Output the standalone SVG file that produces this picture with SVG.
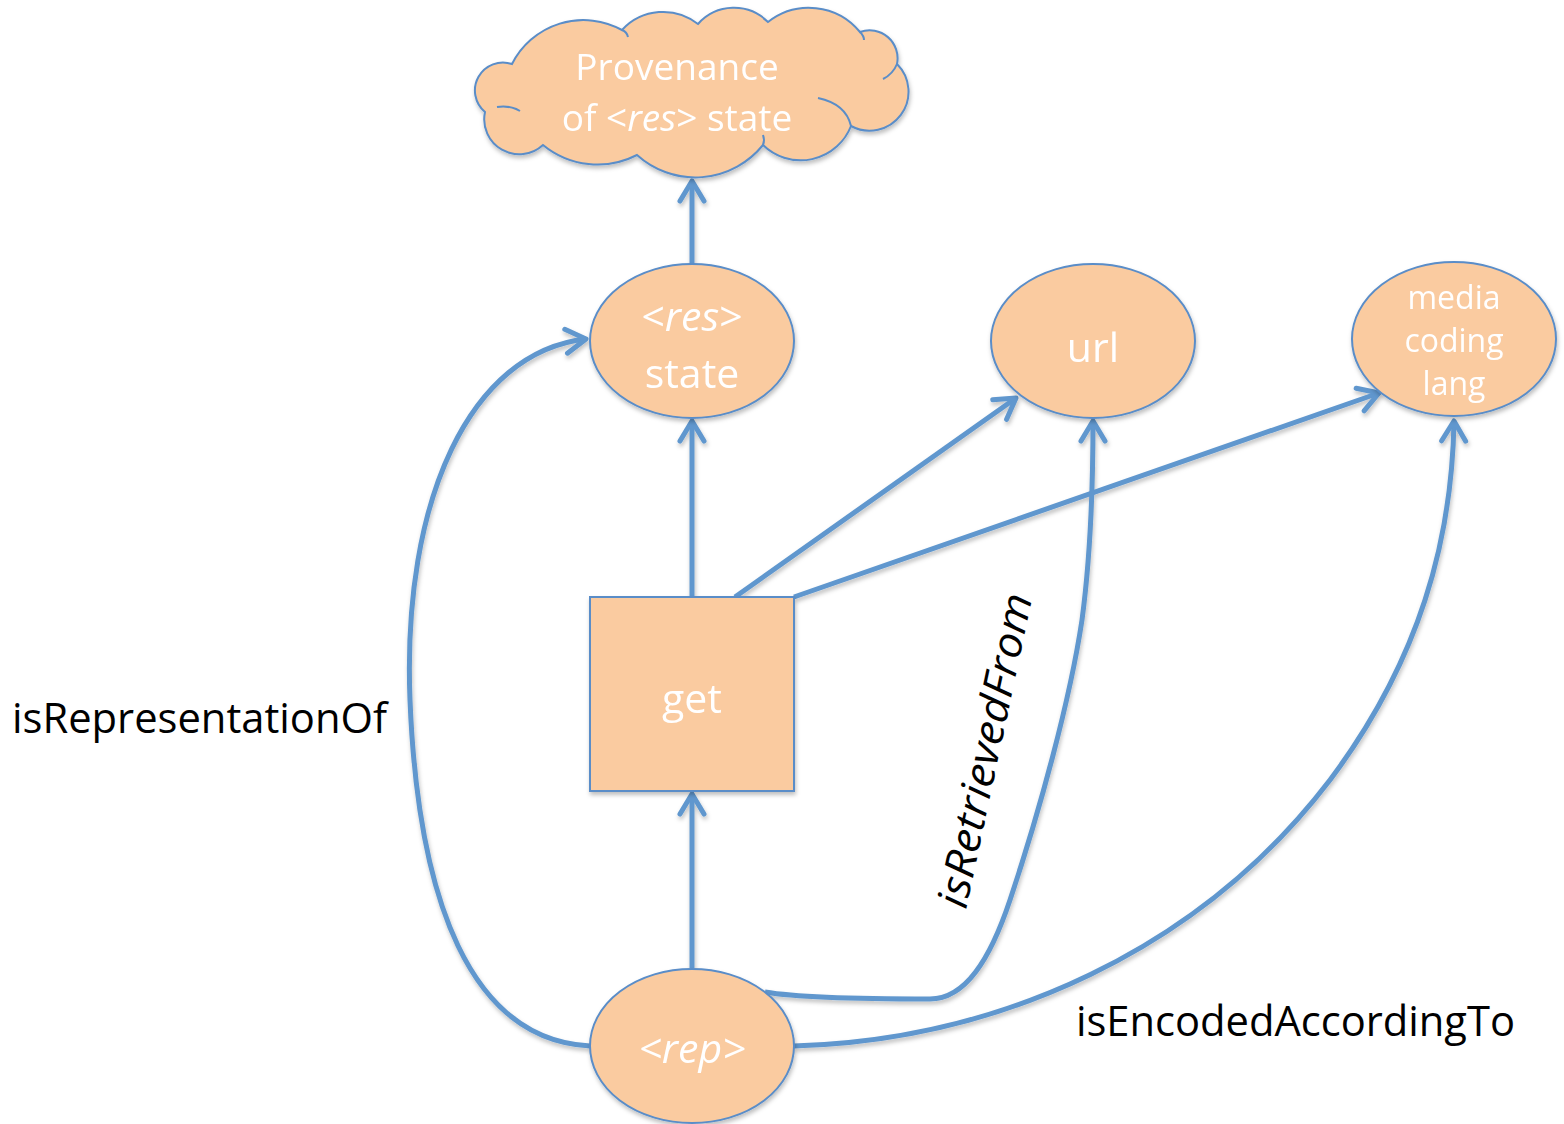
<svg xmlns="http://www.w3.org/2000/svg" width="1564" height="1124" viewBox="0 0 1564 1124">
  <style>
    .node { fill: #FACBA0; stroke: #5A8DC8; stroke-width: 2; }
    .tick { fill: none; stroke: #5A8DC8; stroke-width: 2; }
    .nt { font-family: "Open Sans", "Liberation Sans", sans-serif; fill: #FFFFFF; text-anchor: middle; }
    .lbl { font-family: "Open Sans", "Liberation Sans", sans-serif; fill: #000000; font-size: 42px; }
    .edge { fill: none; stroke: #6097CE; stroke-width: 5; marker-end: url(#arrow); }
  </style>
  <defs>
    <marker id="arrow" markerUnits="userSpaceOnUse" viewBox="-26 -16 32 32" refX="0" refY="0" markerWidth="32" markerHeight="32" orient="auto" overflow="visible">
      <path d="M-20,-12 L0,0 L-20,12" fill="none" stroke="#6097CE" stroke-width="5" stroke-linecap="round" stroke-linejoin="round"/>
    </marker>
    <filter id="sh" x="-10%" y="-10%" width="130%" height="130%">
      <feDropShadow dx="1" dy="3" stdDeviation="2" flood-color="#000" flood-opacity="0.25"/>
    </filter>
  </defs>

  <g id="connectors" filter="url(#sh)">
    <!-- straight links -->
    <path id="e-get-res" class="edge" d="M692,597 L692,421"/>
    <path id="e-res-prov" class="edge" d="M692,264 L692,181"/>
    <path id="e-rep-get" class="edge" d="M692,968 L692,794"/>
    <path id="e-get-url" class="edge" d="M735,597 L1016,398"/>
    <path id="e-get-media" class="edge" d="M794,597 L1379,393"/>
    <!-- curved links -->
    <path id="e-rep-res" class="edge" d="M590,1046 C470,1040 418,900 410,700 C402,500 470,352 586,339"/>
    <path id="e-rep-url" class="edge" d="M765,992 C800,998 880,999 930,999 C965,999 990,960 1010,900 C1040,810 1070,700 1082,620 C1090,560 1093,480 1093,421"/>
    <path id="e-rep-media" class="edge" d="M794,1046 C1000,1040 1200,950 1330,780 C1420,660 1452,540 1454,421"/>
  </g>

  <g id="provenance" filter="url(#sh)">
    <path class="node" d="M512,64 A80,80 0 0 1 622,30 A56,56 0 0 1 698,24 A48,48 0 0 1 768,22 A66,66 0 0 1 860,32 A28,28 0 0 1 897,64 A39,39 0 0 1 851,126 A54,54 0 0 1 763,145 A87,87 0 0 1 637,155 A86,86 0 0 1 543,145 A35,35 0 0 1 485,112 A28,28 0 0 1 512,64 Z"/>
    <path class="tick" d="M897,64 Q893,74 883,79"/>
    <path class="tick" d="M818,98 Q846,104 851,126"/>
    <path class="tick" d="M497,107 Q510,105 520,111"/>
    <path class="tick" d="M622,30 Q627,32 628,37"/>
    <path class="tick" d="M860,32 Q864,36 864,40"/>
    <path class="tick" d="M763,145 Q765,140 763,135"/>
    <text class="nt" x="677" y="80" font-size="37">Provenance</text>
    <text class="nt" x="677" y="131" font-size="37">of &lt;<tspan font-style="italic">res</tspan>&gt; state</text>
  </g>

  <g id="res-state" filter="url(#sh)">
    <ellipse class="node" cx="692" cy="341" rx="102" ry="77"/>
    <text class="nt" x="692" y="331" font-size="41">&lt;<tspan font-style="italic">res</tspan>&gt;</text>
    <text class="nt" x="692" y="388" font-size="41">state</text>
  </g>

  <g id="url" filter="url(#sh)">
    <ellipse class="node" cx="1093" cy="341" rx="102" ry="77"/>
    <text class="nt" x="1093" y="362" font-size="41">url</text>
  </g>

  <g id="media" filter="url(#sh)">
    <ellipse class="node" cx="1454" cy="339" rx="102" ry="77"/>
    <text class="nt" x="1454" y="309" font-size="32">media</text>
    <text class="nt" x="1454" y="352" font-size="32">coding</text>
    <text class="nt" x="1454" y="395" font-size="32">lang</text>
  </g>

  <g id="get" filter="url(#sh)">
    <rect class="node" x="590" y="597" width="204" height="194"/>
    <text class="nt" x="692" y="713" font-size="41">get</text>
  </g>

  <g id="rep" filter="url(#sh)">
    <ellipse class="node" cx="692" cy="1046" rx="102" ry="77"/>
    <text class="nt" x="692" y="1063" font-size="41" font-style="italic">&lt;rep&gt;</text>
  </g>

  <g id="labels">
    <text class="lbl" x="12" y="733" textLength="375" lengthAdjust="spacingAndGlyphs">isRepresentationOf</text>
    <text class="lbl" x="1076" y="1036" textLength="439" lengthAdjust="spacingAndGlyphs">isEncodedAccordingTo</text>
    <text class="lbl" font-style="italic" transform="translate(966,910) rotate(-78)" textLength="320" lengthAdjust="spacingAndGlyphs">isRetrievedFrom</text>
  </g>
</svg>
